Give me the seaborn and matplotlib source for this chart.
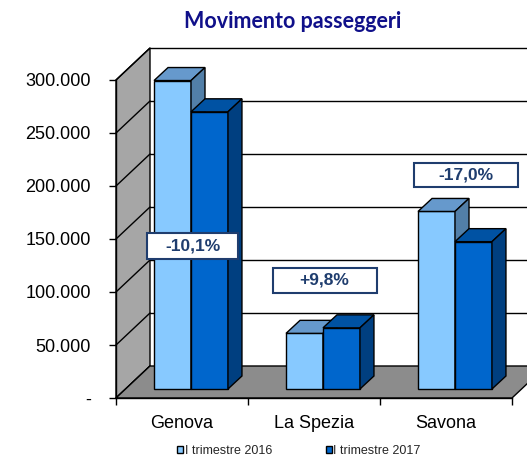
import matplotlib
matplotlib.use("Agg")
import matplotlib.pyplot as plt
from matplotlib.patches import Polygon, Rectangle
import seaborn as sns
import pandas as pd

# data
ports = ["Genova", "La Spezia", "Savona"]
periods = ["I trimestre 2016", "I trimestre 2017"]
pax_2016 = [291000, 52500, 167500]
pax_2017 = [261500, 57700, 139000]
changes = ["-10,1%", "+9,8%", "-17,0%"]
y_ticks = [0, 50000, 100000, 150000, 200000, 250000, 300000]
y_tick_labels = ["-", "50.000", "100.000", "150.000", "200.000", "250.000", "300.000"]

# styles
front_colors = ["#87C9FF", "#0066CC"]
top_colors = ["#6699CC", "#0052A3"]
side_colors = ["#527FA8", "#003F80"]
navy = "#1F3D6E"

df = pd.DataFrame({
    "porto": ports * 2,
    "periodo": [periods[0]] * len(ports) + [periods[1]] * len(ports),
    "passeggeri": pax_2016 + pax_2017,
})

sns.set_style("white")
plt.rcParams["font.family"] = ["Liberation Sans", "DejaVu Sans"]

W, H = 527, 457
fig = plt.figure(figsize=(W / 100, H / 100), dpi=100)
# front plane of the 3D box
ax = fig.add_axes([116 / W, 1 - 398 / H, 396 / W, 318 / H])
ax.set_facecolor("none")

sns.barplot(data=df, x="porto", y="passeggeri", hue="periodo",
            palette=front_colors, saturation=1, width=0.56,
            edgecolor="black", linewidth=1, ax=ax)
n = len(ports)
bars = [p for p in ax.patches if p.get_height() > 0][:2 * n]

x0, x1 = -0.5, n - 0.5
top = y_ticks[-1]
ax.set_xlim(x0, x1)
ax.set_ylim(0, top)

# pixel -> data helpers (axes size is fixed)
kx = 396 / (x1 - x0)
ky = 318 / top


def px_x(p):
    return p / kx


def px_y(p):
    return p / ky


bx, by = px_x(9), px_y(9)     # bar plane offset
dx, dy = px_x(14), px_y(13)   # bar depth
wx, wy = px_x(34), px_y(32)   # back wall offset

# back wall gridlines
for v in y_ticks[1:]:
    ax.plot([x0 + wx, x1 + wx], [v + wy] * 2, color="black", lw=1,
            clip_on=False, zorder=1)

# left wall
ax.add_patch(Polygon([(x0, 0), (x0, top), (x0 + wx, top + wy), (x0 + wx, wy)],
                     closed=True, fc="#A6A6A6", ec="black", lw=1,
                     clip_on=False, zorder=1.1))
for v in y_ticks:
    ax.plot([x0, x0 + wx], [v, v + wy], color="black", lw=1,
            clip_on=False, zorder=1.2)

# floor
ax.add_patch(Polygon([(x0, 0), (x1, 0), (x1 + wx, wy), (x0 + wx, wy)],
                     closed=True, fc="#8C8C8C", ec="black", lw=1,
                     clip_on=False, zorder=1.3))

# 3D bars: shift the seaborn bars back and add top / side faces
for i, bar in enumerate(bars):
    k = i // n
    x, w, h = bar.get_x() + bx, bar.get_width(), bar.get_height()
    bar.set_x(x)
    bar.set_y(by)
    bar.set_zorder(3 + k)
    bar.set_clip_on(False)
    ax.add_patch(Polygon([(x, h + by), (x + w, h + by),
                          (x + w + dx, h + by + dy), (x + dx, h + by + dy)],
                         closed=True, fc=top_colors[k], ec="black", lw=1,
                         clip_on=False, zorder=3 + k))
    ax.add_patch(Polygon([(x + w, by), (x + w, h + by),
                          (x + w + dx, h + by + dy), (x + w + dx, by + dy)],
                         closed=True, fc=side_colors[k], ec="black", lw=1,
                         clip_on=False, zorder=3 + k))

# axes / ticks
ax.set_xlabel("")
ax.set_ylabel("")
ax.spines[["top", "right"]].set_visible(False)
for s in ["left", "bottom"]:
    ax.spines[s].set_color("black")
    ax.spines[s].set_linewidth(1)
ax.set_yticks(y_ticks, y_tick_labels)
ax.tick_params(axis="y", left=True, length=5, width=1, color="black",
               labelsize=13, pad=13, direction="out", labelcolor="black")
ax.tick_params(axis="x", which="major", length=0, labelsize=13, pad=12,
               labelcolor="black")
ax.set_xticks([x0 + j for j in range(n + 1)], minor=True)
ax.tick_params(axis="x", which="minor", bottom=True, length=5, width=1,
               color="black", direction="out")

# change labels
label_pos = [(0.08, 143000), (1.08, 111000), (2.15, 210000)]
label_box = [(91, 26), (104, 25), (104, 24)]
for text, (cx, cy), (bw, bh) in zip(changes, label_pos, label_box):
    ax.add_patch(Rectangle((cx - px_x(bw) / 2, cy - px_y(bh) / 2),
                           px_x(bw), px_y(bh), fc="white", ec=navy, lw=1.5,
                           clip_on=False, zorder=10))
    ax.text(cx, cy, text, ha="center", va="center", fontsize=12.5,
            fontweight="bold", color=navy, zorder=11)

# legend
sns.move_legend(ax, "center", bbox_to_anchor=(299 / W, 1 - 451 / H),
                bbox_transform=fig.transFigure, ncol=2, frameon=False,
                title=None, fontsize=9, handlelength=0.45, handleheight=0.45,
                handletextpad=0.15, columnspacing=4.3)
for hnd in ax.get_legend().legend_handles:
    hnd.set_edgecolor("black")
    hnd.set_linewidth(1)

fig.text(293 / W, 1 - 22 / H, "Movimento passeggeri", ha="center",
         va="center", fontsize=15.5, fontweight="bold", color="#10108A",
         family=["Lato", "DejaVu Sans"])

fig.savefig("out.png", dpi=100)
